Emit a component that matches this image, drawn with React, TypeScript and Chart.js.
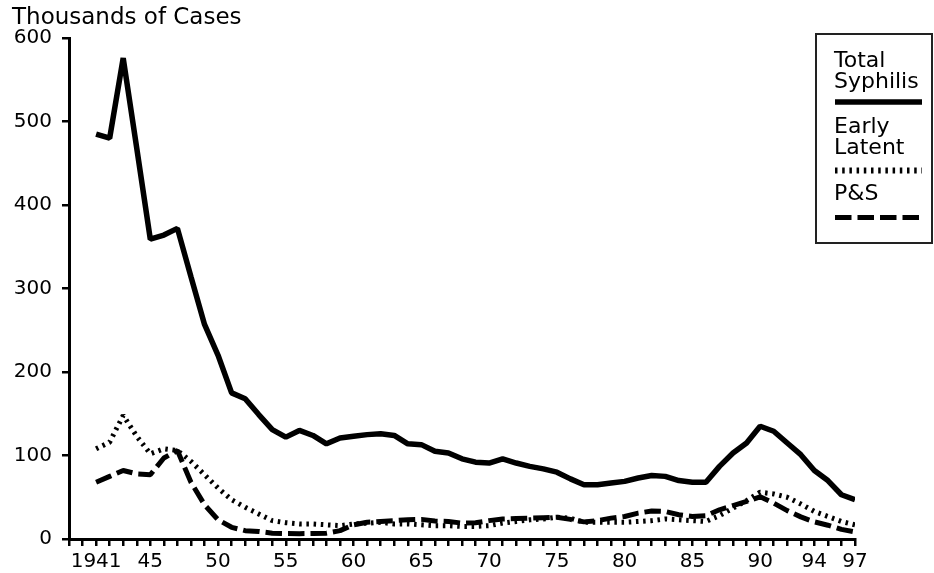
import React, { useEffect, useRef } from "react";
import { Chart, registerables } from "chart.js";

Chart.register(...registerables);

const years = [
  1941, 1942, 1943, 1944, 1945, 1946, 1947, 1948, 1949, 1950,
  1951, 1952, 1953, 1954, 1955, 1956, 1957, 1958, 1959, 1960,
  1961, 1962, 1963, 1964, 1965, 1966, 1967, 1968, 1969, 1970,
  1971, 1972, 1973, 1974, 1975, 1976, 1977, 1978, 1979, 1980,
  1981, 1982, 1983, 1984, 1985, 1986, 1987, 1988, 1989, 1990,
  1991, 1992, 1993, 1994, 1995, 1996, 1997,
];

const totalSyphilis = [
  485, 480, 576, 468, 359, 364, 372, 314, 257, 220,
  175, 168, 149, 131, 122, 130, 124, 114, 121, 123,
  125, 126, 124, 114, 113, 105, 103, 96, 92, 91,
  96, 91, 87, 84, 80, 72, 65, 65, 67, 69,
  73, 76, 75, 70, 68, 68, 87, 103, 115, 135,
  129, 115, 101, 82, 70, 53, 47,
];

const earlyLatent = [
  108, 116, 148, 123, 102, 108, 106, 93, 77, 61,
  47, 38, 30, 22, 19.5, 18, 18, 17, 16, 18,
  19, 20, 18, 18, 17, 16, 16, 15, 15, 16,
  19, 21, 23, 24, 26, 25, 20, 20, 20, 20,
  21, 22, 24, 23, 22, 21, 28, 37, 46, 56,
  54, 50, 42, 33, 27, 21, 17,
];

const primarySecondary = [
  68, 75, 82, 78, 77, 97, 106, 68, 41, 23,
  14, 10, 9, 7, 6.5, 6.4, 6.6, 7, 10, 17,
  20, 21, 22, 23, 23.5, 21.5, 21, 19, 19.5, 22,
  24, 24.5, 25, 25.5, 26, 23.5, 20.5, 22, 25, 27,
  31, 33.5, 33, 29, 27, 28, 35, 40, 45, 50.5,
  43, 34, 26.5, 20.5, 16.5, 11.5, 8.5,
];

const tickYears = [1941, 1945, 1950, 1955, 1960, 1965, 1970, 1975, 1980, 1985, 1990, 1994, 1997];
const tickLabels = ["1941", "45", "50", "55", "60", "65", "70", "75", "80", "85", "90", "94", "97"];

const yTitle = "Thousands of Cases";
const legendLabels = [["Total", "Syphilis"], ["Early", "Latent"], ["P&S"]];

const FONT = "'DejaVu Sans', sans-serif";

const dashSolid: number[] = [];
const dashDotted = [2.5, 4.7];
const dashDashed = [16.5, 6];

const overlayPlugin = {
  id: "overlay",
  afterDraw(chart: any) {
    const ctx = chart.ctx as CanvasRenderingContext2D;
    ctx.save();
    ctx.fillStyle = "#000";
    ctx.font = `23px ${FONT}`;
    ctx.textAlign = "left";
    ctx.textBaseline = "alphabetic";
    ctx.fillText(yTitle, 12, 24);

    ctx.strokeStyle = "#222";
    ctx.lineWidth = 2;
    ctx.strokeRect(816, 34, 116, 209);

    const styles = [
      { dash: dashSolid, width: 5.5, lineY: 102, baselines: [66.5, 87.5] },
      { dash: dashDotted, width: 6, lineY: 170.5, baselines: [132.5, 154] },
      { dash: dashDashed, width: 5, lineY: 217.5, baselines: [200] },
    ];
    ctx.font = `22px ${FONT}`;
    styles.forEach((s, i) => {
      legendLabels[i].forEach((t, j) => {
        ctx.fillText(t, 834, s.baselines[j]);
      });
      ctx.beginPath();
      ctx.setLineDash(s.dash);
      ctx.lineWidth = s.width;
      ctx.strokeStyle = "#000";
      ctx.moveTo(835, s.lineY);
      ctx.lineTo(922, s.lineY);
      ctx.stroke();
    });
    ctx.restore();
  },
};

export default function App() {
  const ref = useRef<HTMLCanvasElement | null>(null);

  useEffect(() => {
    if (!ref.current) return;
    const mk = (vals: number[]) => years.map((x, i) => ({ x, y: vals[i] }));
    const common = {
      borderColor: "#000",
      borderWidth: 5,
      pointRadius: 0,
      tension: 0,
      fill: false,
      borderJoinStyle: "bevel" as const,
    };
    const chart = new Chart(ref.current, {
      type: "line",
      data: {
        datasets: [
          { ...common, label: "Early Latent", data: mk(earlyLatent), borderDash: dashDotted },
          { ...common, label: "P&S", data: mk(primarySecondary), borderDash: dashDashed },
          { ...common, label: "Total Syphilis", data: mk(totalSyphilis), borderWidth: 5.5 },
        ],
      },
      options: {
        responsive: false,
        animation: false,
        layout: { padding: { left: 0, top: 38, right: 79, bottom: 0 } },
        plugins: {
          legend: { display: false },
          tooltip: { enabled: false },
          title: { display: false },
        },
        scales: {
          x: {
            type: "linear",
            min: 1939,
            max: 1997,
            grid: {
              display: true,
              drawOnChartArea: false,
              drawTicks: true,
              tickLength: 7,
              color: "#000",
              lineWidth: 2.5,
            },
            border: { display: true, color: "#000", width: 3 },
            ticks: {
              stepSize: 1,
              maxTicksLimit: 200,
              autoSkip: false,
              maxRotation: 0,
              minRotation: 0,
              padding: 4,
              color: "#000",
              font: { family: FONT, size: 20 },
              callback: (v: any) => {
                const idx = tickYears.indexOf(Number(v));
                return idx >= 0 ? tickLabels[idx] : "";
              },
            },
            afterFit: (scale: any) => {
              scale.height = 34;
            },
          },
          y: {
            type: "linear",
            min: 0,
            max: 600,
            grid: {
              display: true,
              drawOnChartArea: false,
              drawTicks: true,
              tickLength: 7,
              color: "#000",
              lineWidth: 2.5,
            },
            border: { display: true, color: "#000", width: 3 },
            ticks: {
              stepSize: 100,
              padding: 10,
              color: "#000",
              font: { family: FONT, size: 20 },
            },
            afterFit: (scale: any) => {
              scale.width = 69;
            },
          },
        },
      },
      plugins: [overlayPlugin],
    });
    return () => chart.destroy();
  }, []);

  return (
    <div style={{ position: "fixed", left: 0, top: 0, width: 934, height: 573, background: "#fff" }}>
      <canvas ref={ref} width={934} height={573} style={{ display: "block" }} />
    </div>
  );
}
